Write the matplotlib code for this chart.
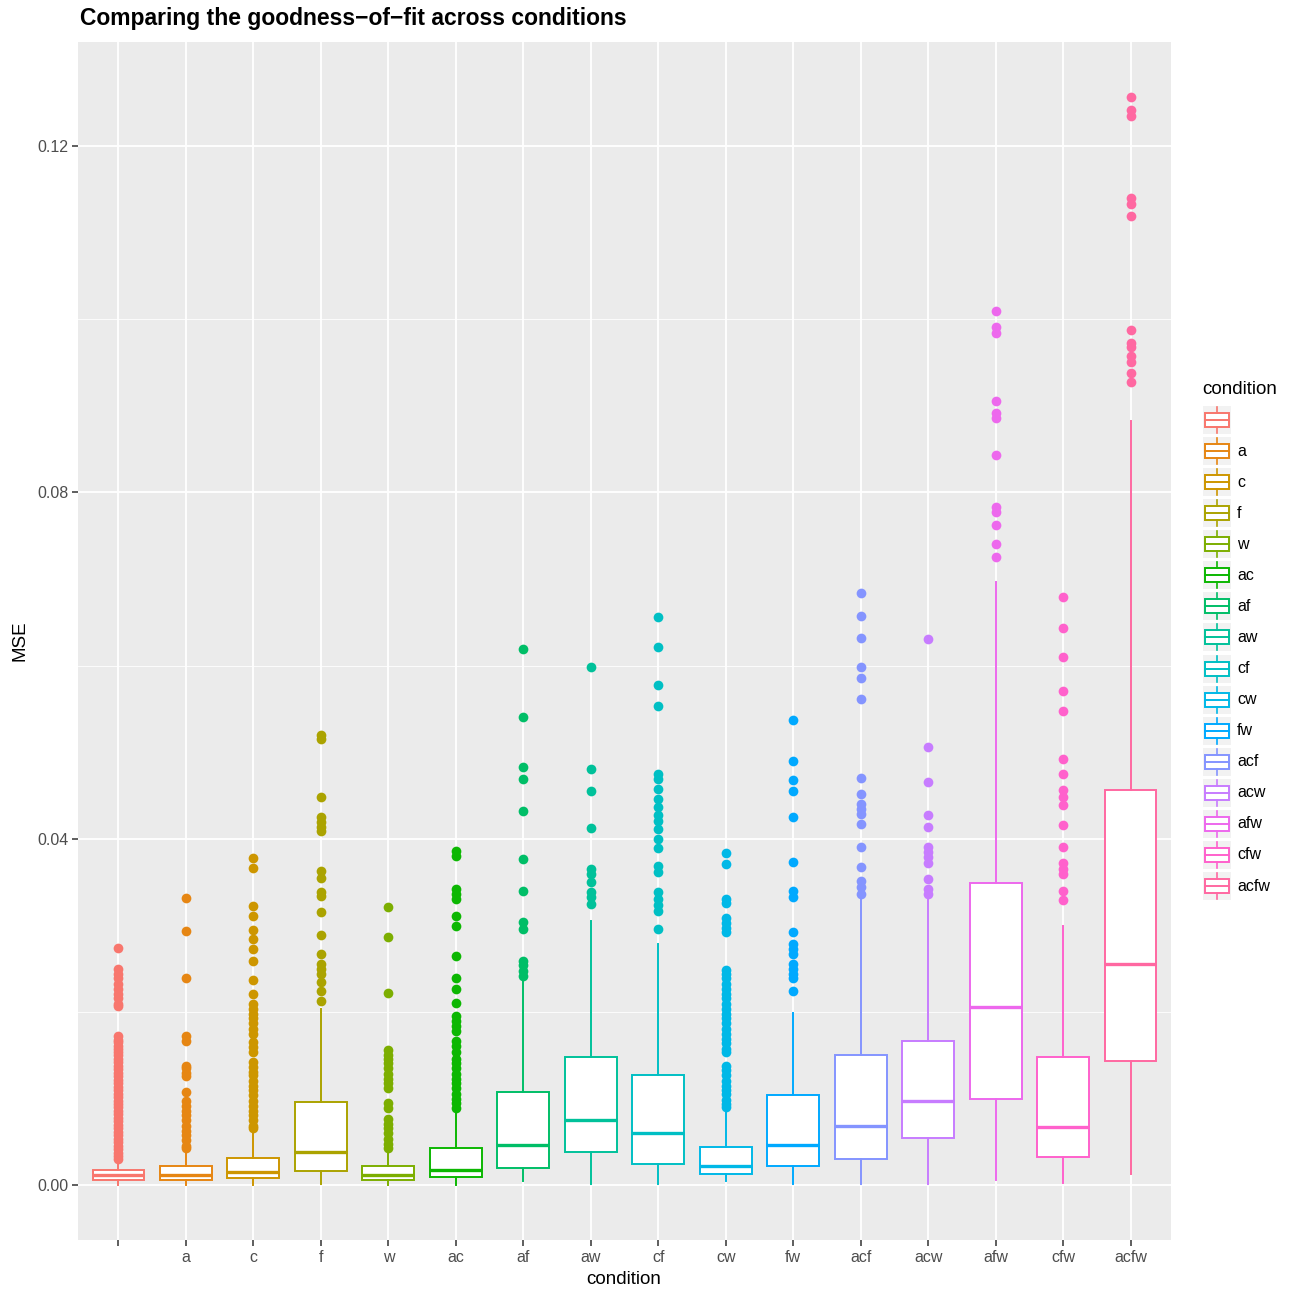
import matplotlib.pyplot as plt
from matplotlib.patches import Rectangle

plt.rcParams['font.family'] = ['Liberation Sans', 'DejaVu Sans']

conditions = ["", "a", "c", "f", "w", "ac", "af", "aw", "cf", "cw", "fw",
              "acf", "acw", "afw", "cfw", "acfw"]
colors = ["#F8766D", "#E68613", "#CD9600", "#ABA300", "#7CAE00", "#0CB702",
          "#00BE67", "#00C19A", "#00BFC4", "#00B8E7", "#00A9FF", "#8494FF",
          "#C77CFF", "#ED68ED", "#FF61CC", "#FF68A1"]

# box summaries
whis_lo = [0.0001, 0.0001, 0.0001, 0.0002, 0.0001, 0.0001, 0.0005, 0.0002,
           0.0002, 0.0005, 0.0002, 0.0002, 0.0002, 0.0006, 0.0003, 0.0013]
q1 = [0.00058, 0.00058, 0.0008, 0.0017, 0.00058, 0.0010, 0.0020, 0.0039,
      0.0025, 0.0013, 0.0023, 0.0031, 0.0055, 0.0100, 0.0033, 0.0144]
med = [0.00115, 0.00115, 0.0015, 0.0039, 0.00115, 0.0018, 0.0047, 0.0076,
       0.0060, 0.0023, 0.0047, 0.0069, 0.0098, 0.0206, 0.0068, 0.0256]
q3 = [0.00173, 0.0022, 0.0032, 0.0096, 0.0022, 0.0043, 0.0108, 0.0148,
      0.0128, 0.0044, 0.0104, 0.0150, 0.0167, 0.0349, 0.0148, 0.0456]
whis_hi = [0.0028, 0.0039, 0.0063, 0.0204, 0.0039, 0.0086, 0.0239, 0.0305,
           0.0279, 0.0086, 0.0199, 0.0331, 0.0331, 0.0697, 0.0300, 0.0883]

# outliers per condition
out_base = [0.0274, 0.0250, 0.0244, 0.0239, 0.0233, 0.0227, 0.0221, 0.0216, 0.0210,
            0.0207, 0.0172, 0.0168, 0.0165, 0.0161, 0.0158, 0.0154, 0.0150, 0.0146,
            0.0142, 0.0138, 0.0134, 0.0130, 0.0126, 0.0122, 0.0118, 0.0114, 0.0110,
            0.0106, 0.0102, 0.0098, 0.0094, 0.0090, 0.0086, 0.0082, 0.0078, 0.0074,
            0.0070, 0.0066, 0.0062, 0.0058, 0.0054, 0.0050, 0.0046, 0.0042, 0.0038,
            0.0034, 0.0031]
out_a = [0.0332, 0.0294, 0.0239, 0.0172, 0.0167, 0.0138, 0.0135, 0.0130, 0.0126,
         0.0108, 0.0097, 0.0092, 0.0086, 0.0081, 0.0075, 0.0069, 0.0063, 0.0058,
         0.0052, 0.0046, 0.0043]
out_c = [0.0378, 0.0367, 0.0323, 0.0311, 0.0295, 0.0284, 0.0273, 0.0259, 0.0237,
         0.0221, 0.0210, 0.0204, 0.0198, 0.0193, 0.0187, 0.0181, 0.0175, 0.0166,
         0.0160, 0.0154, 0.0143, 0.0137, 0.0131, 0.0127, 0.0121, 0.0115, 0.0110,
         0.0104, 0.0098, 0.0092, 0.0086, 0.0081, 0.0075, 0.0069, 0.0066]
out_f = [0.0520, 0.0515, 0.0448, 0.0425, 0.0420, 0.0414, 0.0409, 0.0363, 0.0355,
         0.0339, 0.0334, 0.0316, 0.0289, 0.0267, 0.0256, 0.0250, 0.0244, 0.0235,
         0.0224, 0.0213]
out_w = [0.0322, 0.0287, 0.0222, 0.0156, 0.0151, 0.0146, 0.0141, 0.0135, 0.0129,
         0.0123, 0.0118, 0.0112, 0.0095, 0.0089, 0.0077, 0.0071, 0.0066, 0.0060,
         0.0054, 0.0048, 0.0043]
out_ac = [0.0386, 0.0380, 0.0342, 0.0337, 0.0331, 0.0311, 0.0299, 0.0265, 0.0240,
          0.0227, 0.0211, 0.0196, 0.0190, 0.0184, 0.0178, 0.0167, 0.0161, 0.0154,
          0.0146, 0.0141, 0.0135, 0.0129, 0.0123, 0.0118, 0.0112, 0.0106, 0.0100,
          0.0095, 0.0089]
out_af = [0.0619, 0.0541, 0.0483, 0.0469, 0.0432, 0.0377, 0.0340, 0.0304, 0.0296,
          0.0259, 0.0254, 0.0248, 0.0242]
out_aw = [0.0598, 0.0481, 0.0455, 0.0413, 0.0365, 0.0359, 0.0350, 0.0339, 0.0333,
          0.0325]
out_cf = [0.0656, 0.0621, 0.0578, 0.0554, 0.0475, 0.0469, 0.0458, 0.0446, 0.0437,
          0.0428, 0.0421, 0.0412, 0.0400, 0.0390, 0.0369, 0.0362, 0.0339, 0.0331,
          0.0324, 0.0317, 0.0296]
out_cw = [0.0384, 0.0371, 0.0331, 0.0326, 0.0309, 0.0303, 0.0297, 0.0293, 0.0249,
          0.0244, 0.0239, 0.0233, 0.0227, 0.0221, 0.0216, 0.0210, 0.0204, 0.0198,
          0.0193, 0.0187, 0.0181, 0.0175, 0.0169, 0.0164, 0.0158, 0.0154, 0.0138,
          0.0133, 0.0127, 0.0121, 0.0115, 0.0110, 0.0106, 0.0099, 0.0094, 0.0090]
out_fw = [0.0537, 0.0490, 0.0468, 0.0455, 0.0425, 0.0373, 0.0340, 0.0333, 0.0293,
          0.0279, 0.0273, 0.0267, 0.0256, 0.0250, 0.0244, 0.0239, 0.0225]
out_acf = [0.0684, 0.0657, 0.0632, 0.0598, 0.0586, 0.0561, 0.0470, 0.0452, 0.0440,
           0.0435, 0.0429, 0.0417, 0.0391, 0.0368, 0.0352, 0.0345, 0.0337]
out_acw = [0.0631, 0.0506, 0.0466, 0.0428, 0.0414, 0.0391, 0.0385, 0.0379, 0.0372,
           0.0354, 0.0342, 0.0337]
out_afw = [0.1009, 0.0991, 0.0984, 0.0905, 0.0892, 0.0886, 0.0843, 0.0783, 0.0777,
           0.0762, 0.0740, 0.0726]
out_cfw = [0.0679, 0.0644, 0.0610, 0.0571, 0.0548, 0.0492, 0.0475, 0.0456, 0.0448,
           0.0439, 0.0416, 0.0391, 0.0372, 0.0365, 0.0360, 0.0340, 0.0330]
out_acfw = [0.1257, 0.1242, 0.1234, 0.1140, 0.1133, 0.1119, 0.0987, 0.0973, 0.0968,
            0.0957, 0.0951, 0.0938, 0.0928]

fliers = [out_base, out_a, out_c, out_f, out_w, out_ac, out_af, out_aw, out_cf,
          out_cw, out_fw, out_acf, out_acw, out_afw, out_cfw, out_acfw]

W, H = 1296, 1289
fig = plt.figure(figsize=(W / 100, H / 100), dpi=100)
ax = fig.add_axes([78 / W, 1 - 1240 / H, (1171 - 78) / W, (1240 - 42) / H])
ax.set_facecolor('#EBEBEB')
for s in ax.spines.values():
    s.set_visible(False)

for i, cond in enumerate(conditions):
    st = dict(whislo=whis_lo[i], q1=q1[i], med=med[i], q3=q3[i],
              whishi=whis_hi[i], fliers=fliers[i])
    c = colors[i]
    ax.bxp([st], positions=[i + 1], widths=0.77, patch_artist=True,
           showcaps=False,
           boxprops=dict(facecolor='white', edgecolor=c, linewidth=1.4),
           medianprops=dict(color=c, linewidth=2.4),
           whiskerprops=dict(color=c, linewidth=1.4),
           flierprops=dict(marker='o', markerfacecolor=c, markeredgecolor=c,
                           markeredgewidth=0, markersize=7, alpha=1.0),
           zorder=3)

ax.set_xlim(0.4, 16.6)
ax.set_ylim(-0.0063, 0.1320)
ax.set_xticks(range(1, 17))
ax.set_xticklabels(conditions)
ax.set_yticks([0.0, 0.04, 0.08, 0.12])
ax.set_yticklabels(["0.00", "0.04", "0.08", "0.12"])
ax.set_yticks([0.02, 0.06, 0.10], minor=True)
ax.grid(True, which='major', color='white', linewidth=1.3, zorder=0)
ax.grid(True, which='minor', axis='y', color='white', linewidth=0.6, zorder=0)
ax.set_axisbelow(True)
ax.tick_params(axis='both', which='major', colors='#333333', length=4, width=1.1,
               labelsize=11.5, labelcolor='#4D4D4D', pad=3)
ax.tick_params(axis='both', which='minor', length=0)

fig.text(80 / W, 1 - 18 / H, "Comparing the goodness\u2212of\u2212fit across conditions",
         fontsize=16.5, fontweight='bold', ha='left', va='center')
fig.text(624 / W, 1 - 1279 / H, "condition", fontsize=13.5, ha='center', va='center')
fig.text(20 / W, 1 - 641 / H, "MSE", fontsize=13.5, ha='center', va='center',
         rotation=90)

# legend drawn in pixel coordinates
lg = fig.add_axes([1195 / W, 1 - 905 / H, 101 / W, 535 / H])
lg.set_xlim(1195, 1296)
lg.set_ylim(905, 370)
lg.axis('off')
lg.text(1202, 390, "condition", fontsize=13.5, ha='left', va='center')
for i, cond in enumerate(conditions):
    cy = 420 + 31.07 * i
    lg.add_patch(Rectangle((1203, cy - 14), 28, 28, facecolor='#F2F2F2',
                           edgecolor='none'))
    lg.add_patch(Rectangle((1205, cy - 7), 24, 14, facecolor='white',
                           edgecolor=colors[i], linewidth=1.4))
    lg.plot([1205, 1229], [cy, cy], color=colors[i], linewidth=1.4)
    lg.plot([1217, 1217], [cy - 13, cy - 7], color=colors[i], linewidth=1.2)
    lg.plot([1217, 1217], [cy + 7, cy + 13], color=colors[i], linewidth=1.2)
    lg.text(1237, cy, cond, fontsize=11.5, ha='left', va='center')

fig.savefig('out.png', dpi=100)
